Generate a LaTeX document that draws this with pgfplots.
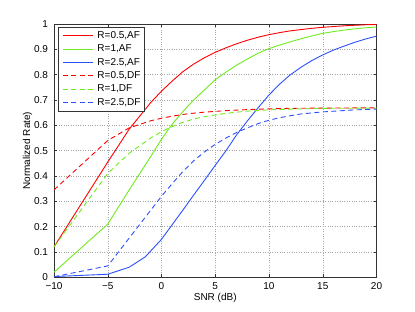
\documentclass[border=0pt]{standalone}
\usepackage{pgfplots}
\pgfplotsset{compat=1.18}
\usepackage{fontspec}
\setmainfont{Liberation Sans}
\definecolor{cR}{RGB}{255,0,0}
\definecolor{cG}{RGB}{110,235,30}
\definecolor{cB}{RGB}{45,80,255}
\begin{document}
\begin{tikzpicture}
\path[use as bounding box] (-54pt,-34.7pt) rectangle (361pt,277.3pt);
\begin{axis}[
  scale only axis, width=322.5pt, height=253.3pt,
  at={(0pt,0pt)}, anchor=south west,
  xmin=-10, xmax=20, ymin=0, ymax=1,
  xtick={-10,-5,0,5,10,15,20},
  xticklabels={−10,−5,0,5,10,15,20},
  ytick={0,0.1,0.2,0.3,0.4,0.5,0.6,0.7,0.8,0.9,1},
  yticklabels={0,0.1,0.2,0.3,0.4,0.5,0.6,0.7,0.8,0.9,1},
  tick align=inside, major tick length=3pt,
  tick style={black!80, line width=0.5pt},
  axis line style={black!80, line width=0.6pt},
  grid=major, major grid style={dotted, gray!70, line width=0.5pt},
  font=\fontsize{10}{12}\selectfont,
  xticklabel style={anchor=center, yshift=-8.7pt},
  yticklabel style={anchor=east, xshift=-2.5pt},
  xlabel={SNR (dB)}, ylabel={Normalized Rate)},
  xlabel style={at={(axis description cs:0.5,0)}, anchor=center, yshift=-20.4pt},
  ylabel style={at={(axis description cs:0,0.5)}, anchor=center, yshift=26.5pt},
  legend style={at={(0,1)}, anchor=north west, xshift=4.3pt, yshift=-2.7pt,
    draw=black!80, fill=white, inner xsep=4pt, inner ysep=4.5pt,
    nodes={inner sep=0pt}, font=\fontsize{10}{12}\selectfont,
    row sep=4.9pt, column sep=4pt},
  legend cell align=left,
  legend image post style={xscale=1.76},
  every axis plot/.append style={line width=0.9pt},
]
% R=0.5 AF
\addplot[color=cR, solid] coordinates {(-10,0.12) (-5,0.455) (-3,0.585) (-1,0.69) (0,0.735) (1,0.775) (2,0.812) (3,0.842) (4,0.867) (5,0.888) (6,0.906) (7,0.922) (8,0.936) (9,0.948) (10,0.958) (11,0.966) (12,0.973) (13,0.978) (14,0.983) (15,0.987) (16,0.99) (17,0.993) (18,0.995) (19,0.997) (20,0.998)};
\addlegendentry{R=0.5,AF}
% R=1 AF
\addplot[color=cG, solid] coordinates {(-10,0.02) (-5,0.21) (-3,0.345) (-1,0.477) (0,0.545) (1,0.605) (2,0.655) (3,0.7) (4,0.74) (5,0.78) (6,0.81) (7,0.838) (8,0.862) (9,0.885) (10,0.903) (11,0.917) (12,0.93) (13,0.942) (14,0.953) (15,0.963) (16,0.97) (17,0.976) (18,0.981) (19,0.985) (20,0.988)};
\addlegendentry{R=1,AF}
% R=2.5 AF
\addplot[color=cB, solid] coordinates {(-10,0.003) (-5,0.012) (-3,0.04) (-1.5,0.081) (0,0.15) (1,0.208) (2,0.266) (3,0.325) (4,0.383) (5,0.442) (6,0.5) (7,0.563) (8,0.618) (9,0.67) (10,0.72) (11,0.763) (12,0.8) (13,0.83) (14,0.856) (15,0.878) (16,0.897) (17,0.913) (18,0.928) (19,0.941) (20,0.952)};
\addlegendentry{R=2.5,AF}
% R=0.5 DF
\addplot[color=cR, dash pattern=on 5pt off 3.5pt] coordinates {(-10,0.345) (-5,0.54) (-3,0.59) (-1,0.618) (0,0.628) (1,0.636) (2,0.643) (3,0.648) (4,0.652) (5,0.655) (6,0.658) (7,0.66) (8,0.662) (10,0.665) (12,0.667) (15,0.668) (20,0.669)};
\addlegendentry{R=0.5,DF}
% R=1 DF
\addplot[color=cG, dash pattern=on 5pt off 3.5pt] coordinates {(-10,0.12) (-5,0.41) (-3,0.49) (-1,0.55) (0,0.575) (1,0.595) (2,0.612) (3,0.625) (4,0.634) (5,0.641) (6,0.647) (7,0.652) (8,0.656) (10,0.661) (12,0.664) (15,0.667) (20,0.668)};
\addlegendentry{R=1,DF}
% R=2.5 DF
\addplot[color=cB, dash pattern=on 5pt off 3.5pt] coordinates {(-10,0.002) (-5,0.045) (-3,0.155) (-1,0.265) (0,0.32) (1,0.37) (2,0.418) (3,0.46) (4,0.495) (5,0.525) (6,0.55) (7,0.572) (8,0.59) (9,0.607) (10,0.62) (11,0.63) (12,0.638) (13,0.645) (15,0.653) (18,0.661) (20,0.664)};
\addlegendentry{R=2.5,DF}
\end{axis}
\end{tikzpicture}
\end{document}
